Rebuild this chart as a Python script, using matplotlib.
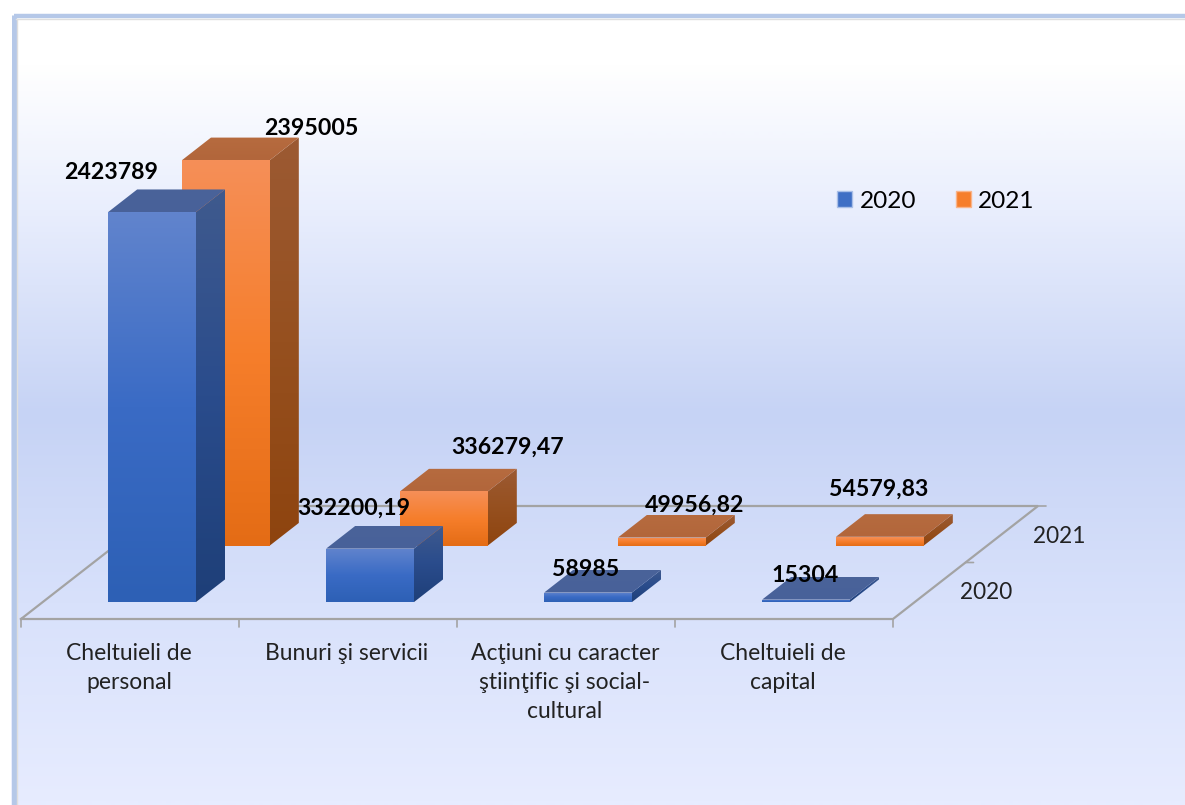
import matplotlib
matplotlib.use('Agg')
import matplotlib.pyplot as plt
import numpy as np
from matplotlib.colors import LinearSegmentedColormap
from matplotlib.patches import Patch, Polygon

plt.rcParams['font.family'] = ['Lato', 'DejaVu Sans']

# Data
categories = ['Cheltuieli de\npersonal', 'Bunuri şi servicii',
              'Acţiuni cu caracter\nştiinţific şi social-\ncultural',
              'Cheltuieli de\ncapital']
series_names = ['2020', '2021']
values_2020 = [2423789, 332200.19, 58985, 15304]
values_2021 = [2395005, 336279.47, 49956.82, 54579.83]

# Label offsets from the bar top, in pixels (the labels were dragged by hand)
offsets_2020 = [(-55, 28), (-30, 29), (-17, 12), (-15, 13)]
offsets_2021 = [(73, 20), (51, 33), (20, 21), (-14, 36)]

# Oblique projection: one category = 218 px, one depth unit = (145, 113) px
W, H = 1185, 805
PX_CAT = 218.0
PX_VAL = 1 / 6215.0
DEPTH_X, DEPTH_Y = 145.0, 113.0
ORIGIN_X, ORIGIN_Y = 21.0, 619.0  # front left floor corner, image pixels

BLUE = {'front': ['#6184CD', '#3A6BC5', '#2D60B5'], 'side': ['#3F5A8E', '#2A4C8C', '#1E3F78'],
        'top': ['#4A6399', '#48619A']}
ORANGE = {'front': ['#F58F58', '#F67E2B', '#E46C15'], 'side': ['#9C5A33', '#96501F', '#8E440F'],
          'top': ['#B66B3F', '#B2663B']}


def project(u, t, v):
    # category position, depth (0 front, 1 back), value -> axes data
    return u + t * DEPTH_X / PX_CAT, v + t * DEPTH_Y / PX_VAL


def face(ax, pts, colors, z):
    pts = np.array(pts)
    grad = np.linspace(0, 1, 256).reshape(-1, 1)
    cmap = LinearSegmentedColormap.from_list('f', colors)
    x0, y0 = pts.min(axis=0)
    x1, y1 = pts.max(axis=0)
    im = ax.imshow(grad, cmap=cmap, extent=(x0, x1, y0, y1), origin='upper', aspect='auto',
                   zorder=z, interpolation='bilinear')
    poly = Polygon(pts, closed=True, transform=ax.transData, facecolor='none', edgecolor='none')
    ax.add_patch(poly)
    im.set_clip_path(poly)


def bar(ax, u0, u1, t0, t1, v, style, z):
    a = project(u0, t0, 0)
    b = project(u1, t0, 0)
    c = project(u1, t0, v)
    d = project(u0, t0, v)
    e = project(u1, t1, 0)
    f = project(u1, t1, v)
    g = project(u0, t1, v)
    face(ax, [a, b, c, d], style['front'], z)
    face(ax, [b, e, f, c], style['side'], z)
    face(ax, [d, c, f, g], style['top'], z)


fig = plt.figure(figsize=(W / 100, H / 100), dpi=100)

# Background gradient and frame
bg = fig.add_axes([0, 0, 1, 1])
bg_cmap = LinearSegmentedColormap.from_list('bg', [(0, '#FFFFFF'), (0.08, '#FFFFFF'), (0.26, '#E9EEFD'),
                                                   (0.515, '#C6D3F5'), (0.75, '#D8E1FB'), (1, '#E7ECFF')])
bg.imshow(np.linspace(0, 1, 805).reshape(-1, 1), cmap=bg_cmap, extent=(0, W, H, 0), aspect='auto', origin='upper')
bg.fill_between([0, W], 0, 12, color='white', zorder=2)
bg.fill_between([0, 10], 0, H, color='white', zorder=2)
bg.plot([14, W], [16, 16], color='#B5C8E8', lw=3.2, zorder=3, solid_capstyle='butt')
bg.plot([14, 14], [15, H], color='#B5C8E8', lw=3.6, zorder=3, solid_capstyle='butt')
bg.plot([16, W], [19, 19], color='#DEDEDE', lw=1, zorder=3)
bg.plot([17, 17], [19, H], color='#DEDEDE', lw=1, zorder=3)
bg.set_xlim(0, W)
bg.set_ylim(H, 0)
bg.axis('off')

# Chart axes: x in categories, y in values, covers the whole figure
ax = fig.add_axes([0, 0, 1, 1])
ax.patch.set_alpha(0)
n = len(categories)
depths = [(0.15, 0.35), (0.65, 0.85)]
shifts = [0.0, 0.006]
all_values = [values_2020, values_2021]
styles = [BLUE, ORANGE]
all_offsets = [offsets_2020, offsets_2021]

# Floor
GRID = '#A3A3A3'
fx = [project(0, 0, 0), project(n, 0, 0), project(n, 1, 0), project(0, 1, 0), project(0, 0, 0)]
ax.plot(*zip(*fx), color=GRID, lw=1.6, zorder=1, solid_joinstyle='miter')
for i in range(n + 1):
    x, y = project(i, 0, 0)
    ax.annotate('', xy=(x, y), xytext=(0, -8), textcoords='offset pixels',
                arrowprops=dict(arrowstyle='-', color=GRID, lw=1.2, shrinkA=0, shrinkB=0))
for t in [0.5, 1]:
    x, y = project(n, t, 0)
    ax.annotate('', xy=(x, y), xytext=(8, 0), textcoords='offset pixels',
                arrowprops=dict(arrowstyle='-', color=GRID, lw=1.2, shrinkA=0, shrinkB=0))

# Bars, back series first
z = 2
for s in [1, 0]:
    t0, t1 = depths[s]
    for i in range(n):
        bar(ax, i + 0.3 + shifts[s], i + 0.703 + shifts[s], t0, t1, all_values[s][i], styles[s], z)
        z += 1

# Value labels
for s in [1, 0]:
    t0, t1 = depths[s]
    for i in range(n):
        v = all_values[s][i]
        x, y = project(i + 0.5, (t0 + t1) / 2, v)
        ax.annotate(str(v).replace('.', ','), xy=(x, y), xytext=all_offsets[s][i], textcoords='offset pixels',
                    ha='center', va='center', fontsize=16.7, fontweight='bold', color='black', zorder=50)

# Category labels
for i, c in enumerate(categories):
    x, y = project(i + 0.5, 0, 0)
    ax.annotate(c, xy=(x, y), xytext=(-1, -24), textcoords='offset pixels', ha='center', va='top',
                fontsize=16.5, color='#222222', linespacing=1.47, zorder=50)

# Series labels on the depth axis
for s, name in enumerate(series_names):
    x, y = project(n, (depths[s][0] + depths[s][1]) / 2, 0)
    ax.annotate(name, xy=(x, y), xytext=(57, -2), textcoords='offset pixels', ha='center', va='center',
                fontsize=16.3, color='#222222', zorder=50)

# Legend
handles = [Patch(facecolor='#3F6FC5', edgecolor='#A9BFE8', label=series_names[0]),
           Patch(facecolor='#F67E2B', edgecolor='#F9B48A', label=series_names[1])]
ax.legend(handles=handles, ncol=2, frameon=False, fontsize=17.6, loc='center left',
          bbox_to_anchor=(815 / W, 1 - 201 / H), handlelength=0.62, handleheight=0.6,
          handletextpad=0.3, columnspacing=1.62)

ax.set_xlim(-ORIGIN_X / PX_CAT, (W - ORIGIN_X) / PX_CAT)
ax.set_ylim(-(H - ORIGIN_Y) / PX_VAL, ORIGIN_Y / PX_VAL)
ax.axis('off')

fig.savefig('out.png', dpi=100)
